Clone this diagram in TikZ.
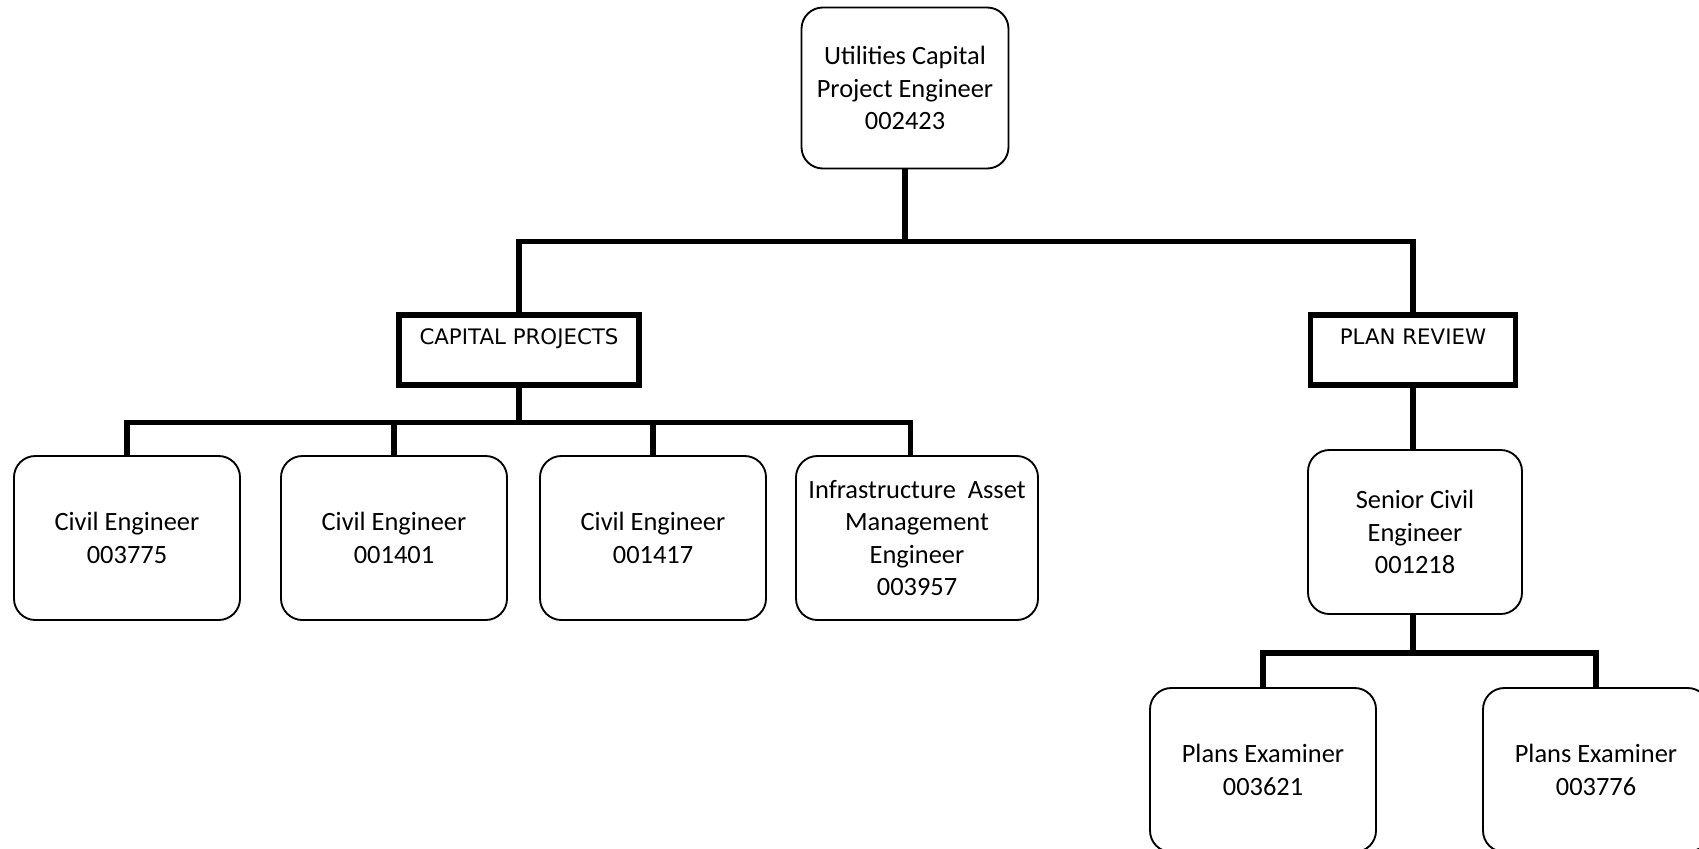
\documentclass[tikz,border=0pt]{standalone}
\usepackage{fontspec}
\setmainfont{Carlito}
\newfontfamily\sectfont{DejaVu Sans}
\usetikzlibrary{positioning}

\begin{document}
\begin{tikzpicture}[x=0.75pt, y=-0.75pt, on grid,
	post/.style ={draw, rounded corners=16pt, line width=1.4pt, align=center, minimum width=169.5pt, minimum height=123pt, inner sep=2pt, font=\fontsize{19.8}{24.4}\selectfont},
	unit/.style ={draw, line width=4pt, minimum width=180pt, minimum height=52.5pt, text height=12pt, text depth=20pt, font=\sectfont\fontsize{16}{19}\selectfont},
	link/.style ={line width=4pt}]
	\useasboundingbox (0,0) rectangle (1699,849);
	\node[post, minimum width=155.25pt, minimum height=120.75pt] (ucpe) at (905,88) {Utilities Capital\\Project Engineer\\002423};
	\node[unit] (cap) [below left = 196.5pt and 289.5pt of ucpe] {CAPITAL PROJECTS};
	\node[unit, minimum width=153.75pt] (plan) [below right = 196.5pt and 381pt of ucpe] {PLAN REVIEW};
	
	\node[post] (civa) [below left = 141pt and 294pt of cap] {Civil Engineer\\003775};
	\node[post] (civb) [right = 200.25pt of civa] {Civil Engineer\\001401};
	\node[post] (civc) [right = 194.25pt of civb] {Civil Engineer\\001417};
	\node[post, minimum width=181.5pt] (asset) [right = 198pt of civc] {Infrastructure\ \ Asset\\Management\\Engineer\\003957};
	
	\node[post, minimum width=160.5pt] (senior) [below = 136.5pt of plan, xshift=1.5pt] {Senior Civil\\Engineer\\001218};
	\node[post] (exa) [below left = 178.5pt and 114pt of senior] {Plans Examiner\\003621};
	\node[post] (exb) [right = 249.75pt of exa] {Plans Examiner\\003776};
	
	% top level
	\draw[link] (ucpe.south) -- ++(0,72) coordinate (hub);
	\draw[link] (cap.north) |- (hub) -| (plan.north);
	
	% capital projects
	\draw[link] (cap.south) -- ++(0,35) coordinate (capbus);
	\draw[link] (civa.north) |- (capbus) -| ([xshift=-5pt]asset.north);
	\draw[link] (capbus -| civb.north) -- (civb.north);
	\draw[link] (capbus -| civc.north) -- (civc.north);
	
	% plan review
	\draw[link] (plan.south) -- (senior.north -| plan.south);
	\draw[link] (senior.south -| plan.south) -- ++(0,38) coordinate (revbus);
	\draw[link] (exa.north) |- (revbus) -| (exb.north);
\end{tikzpicture}
\end{document}
